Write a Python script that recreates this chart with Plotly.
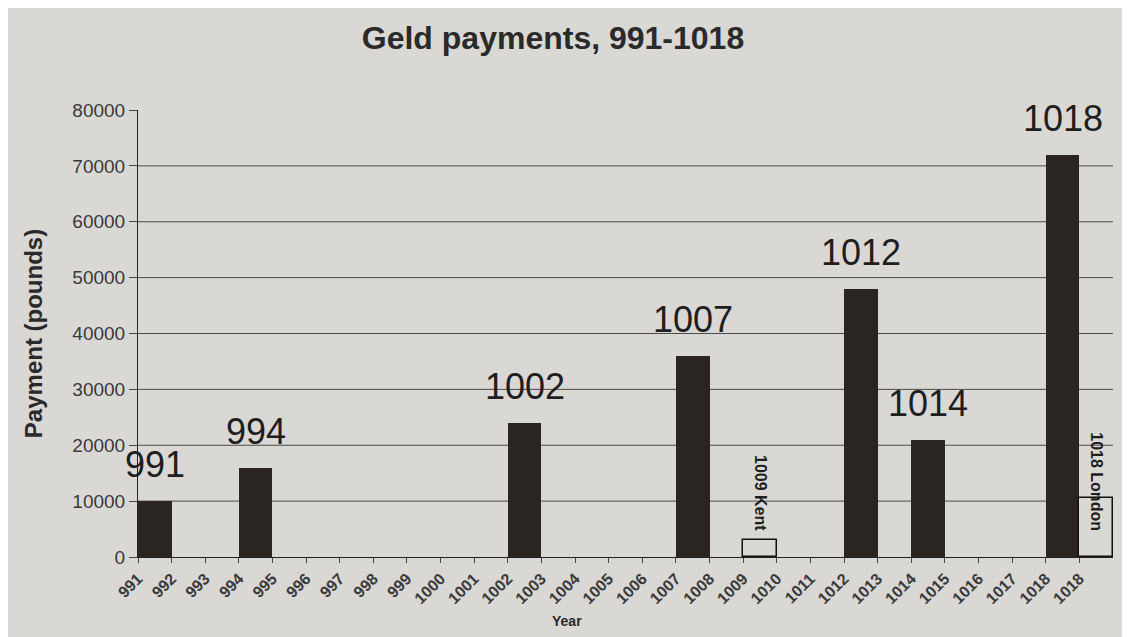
import plotly.graph_objects as go

# ---- data ----
tick_labels = ["991", "992", "993", "994", "995", "996", "997", "998", "999", "1000",
               "1001", "1002", "1003", "1004", "1005", "1006", "1007", "1008", "1009", "1010",
               "1011", "1012", "1013", "1014", "1015", "1016", "1017", "1018", "1018"]
solid_years = ["991", "994", "1002", "1007", "1012", "1014", "1018"]
solid_values = [10000, 16000, 24000, 36000, 48000, 21000, 72000]
outline_years = ["1009", "1018"]
outline_names = ["1009 Kent", "1018 London"]
outline_values = [3000, 10500]
y_ticks = [0, 10000, 20000, 30000, 40000, 50000, 60000, 70000, 80000]

BG = "#d9d8d5"
BAR = "#2a2521"
FONT = "Liberation Sans, Arial, sans-serif"

def first_pos(lbl):
    return tick_labels.index(lbl)

def last_pos(lbl):
    return len(tick_labels) - 1 - tick_labels[::-1].index(lbl)

solid_x = [first_pos(y) for y in solid_years]
outline_x = [last_pos(y) for y in outline_years]

fig = go.Figure()
fig.add_trace(go.Bar(x=solid_x, y=solid_values, width=1, offset=0,
                     marker=dict(color=BAR, line=dict(width=0)),
                     hoverinfo="skip", showlegend=False))
fig.add_trace(go.Bar(x=outline_x, y=outline_values, width=1, offset=0,
                     marker=dict(color=BG, line=dict(color="#111", width=1.5)),
                     hoverinfo="skip", showlegend=False))

annotations = []
for xp, yv, lbl in zip(solid_x, solid_values, solid_years):
    annotations.append(dict(x=xp + 0.5, y=yv, xref="x", yref="y", text=lbl,
                            showarrow=False, yanchor="bottom", yshift=14,
                            font=dict(family=FONT, size=36, color="#1e1e1e")))
for xp, lbl in zip(outline_x, outline_names):
    annotations.append(dict(x=xp + 0.5, y=4300, xref="x", yref="y", text="<b>" + lbl + "</b>",
                            showarrow=False, yanchor="bottom", textangle=90,
                            font=dict(family=FONT, size=16, color="#1e1e1e")))
annotations.append(dict(x=0.44, y=-0.166, xref="paper", yref="paper", text="<b>Year</b>",
                        showarrow=False, xanchor="center", yanchor="bottom",
                        font=dict(family=FONT, size=14, color="#2a2a2a")))

shapes = []
for yv in y_ticks[1:-1]:
    shapes.append(dict(type="line", xref="paper", yref="y", x0=0, x1=1, y0=yv, y1=yv,
                       line=dict(color="#4a4a4a", width=1), layer="below"))

fig.update_layout(
    width=1122, height=629,
    paper_bgcolor=BG, plot_bgcolor=BG,
    margin=dict(l=130, r=17, t=102, b=80),
    font=dict(family=FONT, color="#333"),
    bargap=0,
    title=dict(text="<b>Geld payments, 991-1018</b>", x=545 / 1122, xanchor="center",
               xref="container", y=1 - 30 / 629, yanchor="middle", yref="container",
               font=dict(family=FONT, size=32, color="#2a2a2a")),
    annotations=annotations,
    shapes=shapes,
    xaxis=dict(range=[0, len(tick_labels)], tickmode="array",
               tickvals=list(range(len(tick_labels))),
               ticktext=["<b>" + t + "</b>" for t in tick_labels],
               tickangle=-45, tickfont=dict(size=16, color="#3a3a3a", family=FONT),
               showgrid=False, zeroline=False, showline=True, linecolor="#222", linewidth=1,
               ticks="outside", ticklen=5, tickcolor="#444"),
    yaxis=dict(range=[0, 80000], tickmode="array", tickvals=y_ticks,
               ticktext=[str(v) for v in y_ticks],
               tickfont=dict(size=19, color="#3a3a3a", family=FONT),
               showgrid=False, zeroline=False, showline=True, linecolor="#222", linewidth=1,
               ticks="outside", ticklen=8, tickcolor="#444",
               title=dict(text="<b>Payment (pounds)</b>", font=dict(size=24, color="#2a2a2a"), standoff=22)),
)

fig.write_html("out.html")
